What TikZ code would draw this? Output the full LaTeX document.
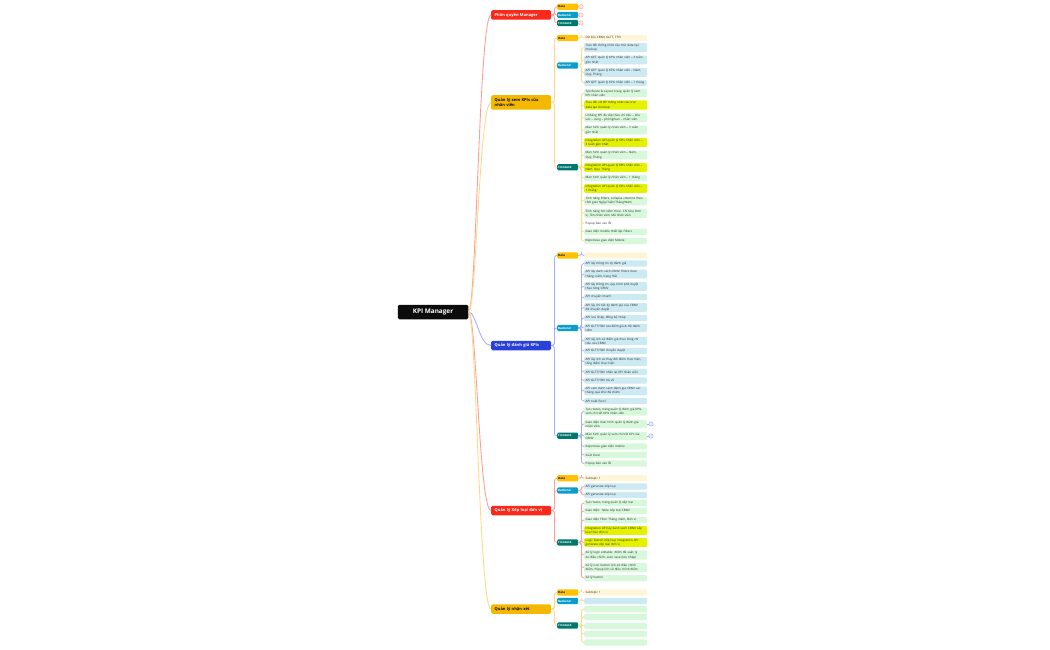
\documentclass[tikz,border=0pt]{standalone}
\usepackage{fontspec}
\setmainfont{Open Sans}
\definecolor{rootcol}{HTML}{0B0B0B}
\definecolor{redcol}{HTML}{F92A1C}
\definecolor{goldcol}{HTML}{F5B800}
\definecolor{bluecol}{HTML}{2B40D9}
\definecolor{datacol}{HTML}{FFC000}
\definecolor{becol}{HTML}{0A9DC7}
\definecolor{fecol}{HTML}{00786F}
\definecolor{dataleaf}{HTML}{FFF6D9}
\definecolor{beleaf}{HTML}{CDE9F2}
\definecolor{feleaf}{HTML}{D8F8DC}
\definecolor{hileaf}{HTML}{E4F200}
\definecolor{redline}{HTML}{FF9F98}
\definecolor{goldline}{HTML}{FFD98A}
\definecolor{blueline}{HTML}{A5ADF5}
\tikzset{
  rootbox/.style={fill=rootcol,text=white,rounded corners=1.5,minimum width=70.5,minimum height=14.5,font=\fontsize{6.4}{8}\selectfont\bfseries},
  branch/.style={anchor=west,text=white,rounded corners=1.5,minimum width=60,minimum height=9.5,inner sep=0,inner xsep=3.5,text width=53,align=left,font=\fontsize{4}{5.2}\selectfont\bfseries},
  tagbox/.style={anchor=west,text=white,rounded corners=1.2,minimum width=21,minimum height=6.2,inner sep=0,inner xsep=1,text width=19,align=left,font=\fontsize{2.9}{3.5}\selectfont\bfseries},
  leaf/.style={anchor=west,rounded corners=1.2,minimum width=63,minimum height=6.3,inner sep=0,inner xsep=1.5,inner ysep=0.7,text width=60,align=left,text=black!85,font=\fontsize{3}{4.3}\selectfont},
  dleaf/.style={leaf,fill=dataleaf},
  bleaf/.style={leaf,fill=beleaf},
  fleaf/.style={leaf,fill=feleaf},
  hleaf/.style={leaf,fill=hileaf},
  fold/.style={circle,draw=#1,fill=#1!25,line width=0.4,minimum size=4.4,inner sep=0},
  trunk/.style={line width=0.9,to path={.. controls +(8,0) and +(-12,0) .. (\tikztotarget)}},
  elbow/.style={line width=0.8,rounded corners=2.5,to path={-- ++(3,0) |- (\tikztotarget)}}
}
\begin{document}
\begin{tikzpicture}[x=1pt,y=-1pt]
\useasboundingbox (0,0) rectangle (1050,650);

\node[rootbox] (root) at (433,312) {KPI Manager};

% nhanh
\node[branch,fill=redcol] (pq) at (491,15) {Phân quyền Manager};
\node[branch,fill=goldcol,text=rootcol,minimum height=14.5] (xem) at (491,102.5) {Quản lý xem KPIs của nhân viên};
\node[branch,fill=bluecol] (dg) at (491,345.5) {Quản lý đánh giá KPIs};
\node[branch,fill=redcol] (xl) at (491,510.5) {Quản lý Xếp loại đơn vị};
\node[branch,fill=goldcol,text=rootcol] (nx) at (491,609) {Quản lý nhận xét};

% the
\node[tagbox,fill=datacol,text=rootcol] (pqd) at (557,6.7) {Data};
\node[tagbox,fill=becol] (pqb) at (557,15) {Backend};
\node[tagbox,fill=fecol] (pqf) at (557,23) {Frontend};
\node[tagbox,fill=datacol,text=rootcol] (xemd) at (557,38) {Data};
\node[tagbox,fill=becol] (xemb) at (557,65.5) {Backend};
\node[tagbox,fill=fecol] (xemf) at (557,167.3) {Frontend};
\node[tagbox,fill=datacol,text=rootcol] (dgd) at (557,255.5) {Data};
\node[tagbox,fill=becol] (dgb) at (557,328) {Backend};
\node[tagbox,fill=fecol] (dgf) at (557,435.7) {Frontend};
\node[tagbox,fill=datacol,text=rootcol] (xld) at (557,478.3) {Data};
\node[tagbox,fill=becol] (xlb) at (557,490.5) {Backend};
\node[tagbox,fill=fecol] (xlf) at (557,542.5) {Frontend};
\node[tagbox,fill=datacol,text=rootcol] (nxd) at (557,592.5) {Data};
\node[tagbox,fill=becol] (nxb) at (557,601) {Backend};
\node[tagbox,fill=fecol] (nxf) at (557,625.5) {Frontend};

% phan quyen
\node[fold=redline] (pqd0) at (581,6.7) {};
\node[fold=redline] (pqb0) at (581,15) {};
\node[fold=redline] (pqf0) at (581,23) {};

% xem KPIs
\node[dleaf] (xemd1) at (584,38) {Dữ liệu CBNV, GLTT, TTtV};
\node[bleaf] (xemb1) at (584,47.5) {Trao đổi thống nhất cấu trúc data tạo\\mockup};
\node[bleaf] (xemb2) at (584,60) {API GET quản lý KPIs nhân viên – 3 tuần\\gần nhất};
\node[bleaf] (xemb3) at (584,72.5) {API GET quản lý KPIs nhân viên – Năm,\\Quý, Tháng};
\node[bleaf] (xemb4) at (584,83) {API GET quản lý KPIs nhân viên – 1 tháng};
\node[fleaf] (xemf1) at (584,93) {Tạo Route \& Layout trang quản lý xem\\KPI nhân viên};
\node[hleaf] (xemf2) at (584,105) {Trao đổi với BE thống nhất cấu trúc\\data tạo mockup};
\node[fleaf] (xemf3) at (584,117.5) {UI Bảng KPI đa cấp theo chỉ tiêu – khu\\vực – vùng – phòng/ban – nhân viên};
\node[fleaf] (xemf4) at (584,130) {Màn hình quản lý nhân viên – 3 tuần\\gần nhất};
\node[hleaf] (xemf5) at (584,142.5) {Integration API quản lý KPIs nhân viên –\\3 tuần gần nhất};
\node[fleaf] (xemf6) at (584,155) {Màn hình quản lý nhân viên – Năm,\\Quý, Tháng};
\node[hleaf] (xemf7) at (584,167.5) {Integration API quản lý KPIs nhân viên –\\Năm, Quý, Tháng};
\node[fleaf] (xemf8) at (584,178) {Màn hình quản lý nhân viên – 1 tháng};
\node[hleaf] (xemf9) at (584,188.5) {Integration API quản lý KPIs nhân viên –\\1 tháng};
\node[fleaf] (xemf10) at (584,201) {Tính năng Filters, collapse columns theo\\thời gian Ngày/Tuần/Tháng/Năm};
\node[fleaf] (xemf11) at (584,213.5) {Tính năng tìm kiếm theo: Chỉ tiêu, Đơn\\vị, Tên nhân viên, Mã nhân viên};
\node[leaf] (xemf12) at (584,223.5) {Popup báo cáo lỗi};
\node[fleaf] (xemf13) at (584,232) {Giao diện mobile thiết lập Filters};
\node[fleaf] (xemf14) at (584,241) {Reponsive giao diện Mobile};

% danh gia
\node[dleaf] (dgd1) at (584,255.5) {};
\node[bleaf] (dgb1) at (584,263.5) {API lấy thông tin kỳ đánh giá};
\node[bleaf] (dgb2) at (584,274) {API lấy danh sách CBNV: filters theo\\tháng, năm, trạng thái};
\node[bleaf] (dgb3) at (584,286.5) {API lấy thông tin quy trình phê duyệt\\theo từng CBNV};
\node[bleaf] (dgb4) at (584,297) {API chuyển nhanh};
\node[bleaf] (dgb5) at (584,307.5) {API lấy chi tiết kỳ đánh giá của CBNV\\đã chuyển duyệt};
\node[bleaf] (dgb6) at (584,318) {API lưu nháp, đồng bộ nháp};
\node[bleaf] (dgb7) at (584,328) {API GLTT/TDV lưu điểm giá \& Hệ đánh\\tiêm};
\node[bleaf] (dgb8) at (584,341) {API lấy lịch sử điểm giá theo từng chỉ\\tiêu của CBNV};
\node[bleaf] (dgb9) at (584,351) {API GLTT/TDV chuyển duyệt};
\node[bleaf] (dgb10) at (584,361.5) {API lấy lịch sử thay đổi điểm thực hiện,\\tổng điểm thực hiện};
\node[bleaf] (dgb11) at (584,372) {API GLTT/TDV nhắn lại KPI nhân viên};
\node[bleaf] (dgb12) at (584,380.5) {API GLTT/TDV trả về};
\node[bleaf] (dgb13) at (584,391) {API xem danh sách đánh giá CBNV các\\tháng quá khứ đã chấm};
\node[bleaf] (dgb14) at (584,401) {API Xuất Excel};
\node[fleaf] (dgf1) at (584,411.5) {Tạo routes, trang quản lý đánh giá KPIs,\\xem chi tiết KPIs nhân viên};
\node[fleaf] (dgf2) at (584,424) {Giao diện màn hình quản lý đánh giá\\nhân viên};
\node[fleaf] (dgf3) at (584,436) {Màn hình quản lý xem chi tiết KPI của\\CBNV};
\node[fleaf] (dgf4) at (584,446.5) {Reponsive giao diện mobile};
\node[fleaf] (dgf5) at (584,455) {Xuất Excel};
\node[fleaf] (dgf6) at (584,463.5) {Popup báo cáo lỗi};
\node[fold=blueline] (dgf20) at (651,424) {};
\node[fold=blueline] (dgf30) at (651,436) {};

% xep loai
\node[dleaf] (xld1) at (584,478.3) {Subtopic 1};
\node[bleaf] (xlb1) at (584,486.5) {API generate xếp loại};
\node[bleaf] (xlb2) at (584,495) {API generate xếp loại};
\node[fleaf] (xlf1) at (584,503) {Tạo routes, trang quản lý xếp loại};
\node[fleaf] (xlf2) at (584,511) {Giao diện: Table xếp loại CBNV};
\node[fleaf] (xlf3) at (584,520) {Giao diện Filter Tháng, Năm, Đơn vị};
\node[hleaf] (xlf4) at (584,530.5) {Integration API lấy danh sách CBNV xếp\\loại theo đơn vị};
\node[hleaf] (xlf5) at (584,542.5) {Logic Button Xếp loại, Integration API\\generate xếp loại đơn vị};
\node[fleaf] (xlf6) at (584,555) {Xử lý logic editable: điểm đề xuất, lý\\do điều chỉnh, auto save (lưu nháp)};
\node[fleaf] (xlf7) at (584,567.5) {Xử lý icon button lịch sử điều chỉnh\\điểm, Popup lịch sử điều chỉnh điểm};
\node[fleaf] (xlf8) at (584,578) {Xử lý button};

% nhan xet
\node[dleaf] (nxd1) at (584,592.5) {Subtopic 1};
\node[bleaf] (nxb1) at (584,601) {};
\node[fleaf] (nxf1) at (584,609) {};
\node[fleaf] (nxf2) at (584,617) {};
\node[fleaf] (nxf3) at (584,626) {};
\node[fleaf] (nxf4) at (584,634) {};
\node[fleaf] (nxf5) at (584,642.5) {};

% duong noi
\draw[trunk,redline] (root.east) to (pq.west);
\draw[trunk,goldline] (root.east) to (xem.west);
\draw[trunk,blueline] (root.east) to (dg.west);
\draw[trunk,redline] (root.east) to (xl.west);
\draw[trunk,goldline] (root.east) to (nx.west);
\foreach \t in {pqd,pqb,pqf} \draw[elbow,redline] (pq.east) to (\t.west);
\foreach \t in {xemd,xemb,xemf} \draw[elbow,goldline] (xem.east) to (\t.west);
\foreach \t in {dgd,dgb,dgf} \draw[elbow,blueline] (dg.east) to (\t.west);
\foreach \t in {xld,xlb,xlf} \draw[elbow,redline] (xl.east) to (\t.west);
\foreach \t in {nxd,nxb,nxf} \draw[elbow,goldline] (nx.east) to (\t.west);
\draw[redline,line width=0.5] (pqd.east) -- (pqd0.west);
\draw[redline,line width=0.5] (pqb.east) -- (pqb0.west);
\draw[redline,line width=0.5] (pqf.east) -- (pqf0.west);
\draw[elbow,goldline] (xemd.east) to (xemd1.west);
\foreach \i in {1,...,4} \draw[elbow,goldline] (xemb.east) to (xemb\i.west);
\foreach \i in {1,...,14} \draw[elbow,goldline] (xemf.east) to (xemf\i.west);
\draw[elbow,blueline] (dgd.east) to (dgd1.west);
\foreach \i in {1,...,14} \draw[elbow,blueline] (dgb.east) to (dgb\i.west);
\foreach \i in {1,...,6} \draw[elbow,blueline] (dgf.east) to (dgf\i.west);
\draw[blueline,line width=0.5] (dgf2.east) -- (dgf20.west);
\draw[blueline,line width=0.5] (dgf3.east) -- (dgf30.west);
\draw[elbow,redline] (xld.east) to (xld1.west);
\foreach \i in {1,2} \draw[elbow,redline] (xlb.east) to (xlb\i.west);
\foreach \i in {1,...,8} \draw[elbow,redline] (xlf.east) to (xlf\i.west);
\draw[elbow,goldline] (nxd.east) to (nxd1.west);
\draw[elbow,goldline] (nxb.east) to (nxb1.west);
\foreach \i in {1,...,5} \draw[elbow,goldline] (nxf.east) to (nxf\i.west);
\end{tikzpicture}
\end{document}
